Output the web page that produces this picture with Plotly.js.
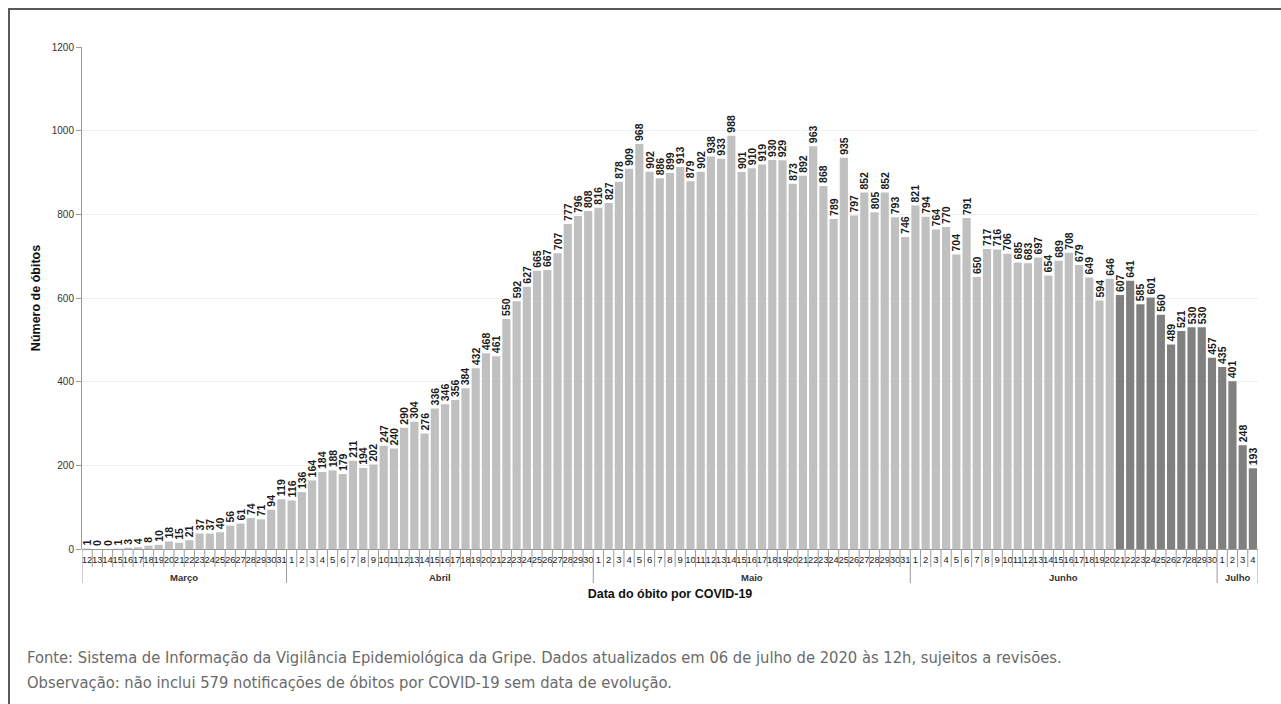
<!DOCTYPE html>
<html>
<head>
<meta charset="utf-8">
<script src="https://cdn.plot.ly/plotly-3.0.1.min.js"></script>
<style>
  html, body { margin: 0; padding: 0; background: #fff; }
  #wrap { position: relative; width: 1281px; height: 704px; overflow: hidden; }
  #chart { position: absolute; left: 0; top: 0; width: 1281px; height: 704px; }
  #frame { position: absolute; left: 8px; top: 8px; width: 1290px; height: 720px;
           border-top: 2px solid #5a5a5a; border-left: 2px solid #5a5a5a; pointer-events: none; }
  .note { position: absolute; left: 27px; font-family: "Liberation Sans Narrow", "DejaVu Sans Condensed", "Open Sans", sans-serif;
          font-size: 16.4px; color: #6a6a6a; white-space: nowrap; }
</style>
</head>
<body>
<div id="wrap">
  <div id="chart"></div>
  <div id="frame"></div>
  <div class="note" style="top:648px;">Fonte: Sistema de Informação da Vigilância Epidemiológica da Gripe. Dados atualizados em 06 de julho de 2020 às 12h, sujeitos a revisões.</div>
  <div class="note" style="top:673px;">Observação: não inclui 579 notificações de óbitos por COVID-19 sem data de evolução.</div>
</div>
<script>
// ---- data ----
const monthNames = ["Março", "Abril", "Maio", "Junho", "Julho"];
const monthFirstDay = [12, 1, 1, 1, 1];
const marco = [1, 0, 0, 1, 3, 4, 8, 10, 18, 15, 21, 37, 37, 40, 56, 61, 74, 71, 94, 119];
const abril = [116, 136, 164, 184, 188, 179, 211, 194, 202, 247, 240, 290, 304, 276, 336, 346, 356, 384, 432, 468,
               461, 550, 592, 627, 665, 667, 707, 777, 796, 808];
const maio = [816, 827, 878, 909, 968, 902, 886, 899, 913, 879, 902, 938, 933, 988, 901, 910, 919, 930, 929, 873,
              892, 963, 868, 789, 935, 797, 852, 805, 852, 793, 746];
const junho = [821, 794, 764, 770, 704, 791, 650, 717, 716, 706, 685, 683, 697, 654, 689, 708, 679, 649, 594, 646,
               607, 641, 585, 601, 560, 489, 521, 530, 530, 457];
const julho = [435, 401, 248, 193];
const recentFrom = {month: "Junho", day: 21}; // bars from this date on are darker

// ---- build ----
const series = [marco, abril, maio, junho, julho];
const x = [], y = [], dayLabels = [], colors = [], text = [];
const monthStart = [];
let idx = 0, dark = false;
series.forEach((vals, m) => {
  monthStart.push(idx);
  vals.forEach((v, k) => {
    const day = monthFirstDay[m] + k;
    if (monthNames[m] === recentFrom.month && day === recentFrom.day) dark = true;
    x.push(idx); y.push(v); dayLabels.push(String(day)); text.push(String(v));
    colors.push(dark ? "#808080" : "#c0c0c0");
    idx++;
  });
});
const n = idx;
monthStart.push(n);

const shapes = [];
for (let i = 0; i <= n; i++) {
  const isMonth = monthStart.indexOf(i) >= 0;
  shapes.push({
    type: "line", xref: "x", yref: "paper", ysizemode: "pixel", yanchor: 0,
    x0: i - 0.5, x1: i - 0.5, y0: 0, y1: isMonth ? -34 : -18,
    line: {color: "#9a9a9a", width: 1}
  });
}
const annotations = [];
for (let m = 0; m < monthNames.length; m++) {
  annotations.push({
    xref: "x", yref: "paper", x: (monthStart[m] + monthStart[m + 1] - 1) / 2, y: 0,
    yshift: -28, yanchor: "middle", showarrow: false, text: monthNames[m],
    font: {family: "Liberation Sans, Arial, sans-serif", size: 9.5, color: "#333", weight: "bold"}
  });
}

const trace = {
  type: "bar", x: x, y: y, text: text,
  marker: {color: colors, line: {width: 0}},
  textposition: "outside", textangle: -90, constraintext: "none", cliponaxis: false,
  textfont: {family: "Liberation Sans, Arial, sans-serif", size: 10.5, color: "#1a1a1a", weight: "bold"},
  hoverinfo: "x+y"
};

const layout = {
  width: 1281, height: 704,
  margin: {l: 82, r: 23, t: 47, b: 155},
  paper_bgcolor: "rgba(0,0,0,0)", plot_bgcolor: "#fff",
  showlegend: false, bargap: 0.2,
  font: {family: "Liberation Sans, Arial, sans-serif", color: "#333"},
  xaxis: {
    range: [-0.5, n - 0.5], tickmode: "array", tickvals: x, ticktext: dayLabels,
    tickangle: 0, ticks: "", showgrid: false, zeroline: false, showline: false,
    tickfont: {size: 9.5, color: "#222"}, ticklabelstandoff: 3,
    title: {text: "Data do óbito por COVID-19", standoff: 25,
            font: {size: 12.5, color: "#111", weight: "bold"}},
    automargin: false
  },
  yaxis: {
    range: [0, 1200], dtick: 200, tick0: 0, ticks: "outside", ticklen: 5, tickcolor: "#9a9a9a",
    showline: true, linecolor: "#9a9a9a", linewidth: 1,
    showgrid: true, gridcolor: "#efefef", gridwidth: 1, zeroline: true, zerolinecolor: "#9a9a9a",
    tickfont: {size: 10, color: "#333"},
    title: {text: "Número de óbitos", standoff: 8, font: {size: 12.5, color: "#111", weight: "bold"}},
    automargin: false
  },
  shapes: shapes, annotations: annotations
};

Plotly.newPlot("chart", [trace], layout, {displayModeBar: false, staticPlot: true});
</script>
</body>
</html>
